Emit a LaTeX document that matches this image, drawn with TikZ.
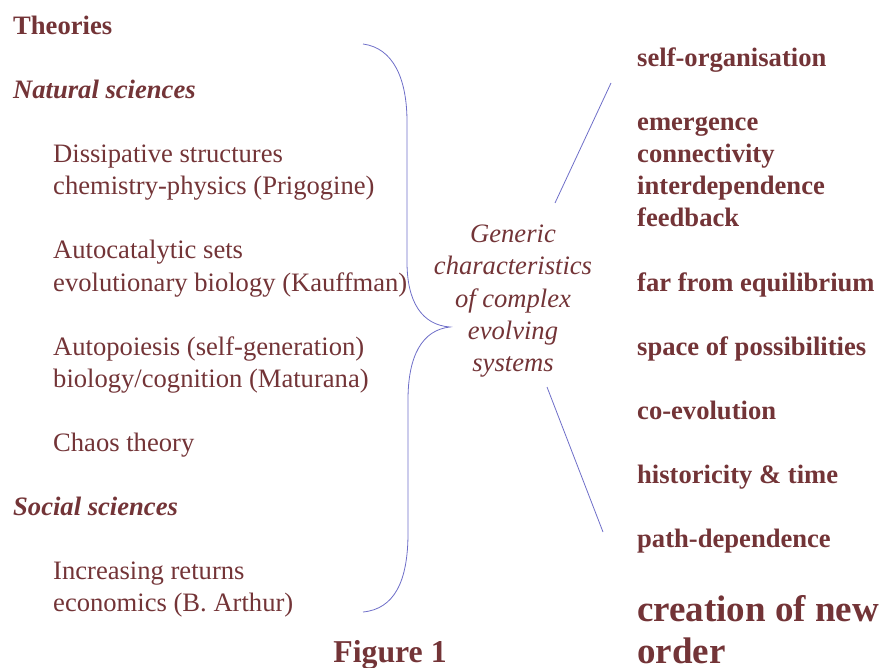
\documentclass[tikz,border=0pt]{standalone}
\usepackage{fontspec}
\setmainfont{Liberation Serif}
\definecolor{txt}{RGB}{115,52,55}
\definecolor{brc}{RGB}{110,110,200}
\begin{document}
\begin{tikzpicture}[x=1pt,y=-1pt,
  lbl/.style={anchor=base west,inner sep=0pt,text=txt,font=\fontsize{26.6}{32}\selectfont},
  hd/.style={lbl,font=\fontsize{26.6}{32}\selectfont\bfseries},
  hdi/.style={lbl,font=\fontsize{26.6}{32}\selectfont\bfseries\itshape},
  rt/.style={lbl,font=\fontsize{26.6}{32}\selectfont\bfseries},
  big/.style={lbl,font=\fontsize{37}{44}\selectfont\bfseries},
  mid/.style={anchor=base,inner sep=0pt,text=txt,font=\fontsize{26.6}{32}\selectfont\itshape},
  conn/.style={draw=brc,line width=0.8pt}]
\useasboundingbox (0,0) rectangle (883,668);
% left column
\node[hd] (theo) at (13,35) {Theories};
\node[hdi] (nat) at (13,99) {Natural sciences};
\node[lbl] (d1) at (53,163) {Dissipative structures};
\node[lbl] (d2) at (53,195) {chemistry-physics (Prigogine)};
\node[lbl] (a1) at (53,259) {Autocatalytic sets};
\node[lbl] (a2) at (53,291) {evolutionary biology (Kauffman)};
\node[lbl] (p1) at (53,355) {Autopoiesis (self-generation)};
\node[lbl] (p2) at (53,387) {biology/cognition (Maturana)};
\node[lbl] (ch) at (53,451) {Chaos theory};
\node[hdi] (soc) at (13,515) {Social sciences};
\node[lbl] (i1) at (53,579) {Increasing returns};
\node[lbl] (i2) at (53,611) {economics (B. Arthur)};
% centre
\node[mid] (g1) at (513,243) {Generic};
\node[mid] (g2) at (513,275) {characteristics};
\node[mid] (g3) at (513,307) {of complex};
\node[mid] (g4) at (513,339) {evolving};
\node[mid] (g5) at (513,371) {systems};
% right column
\node[rt] (r1) at (637,67) {self-organisation};
\node[rt] (r2) at (637,131) {emergence};
\node[rt] (r3) at (637,163) {connectivity};
\node[rt] (r4) at (637,195) {interdependence};
\node[rt] (r5) at (637,227) {feedback};
\node[rt] (r6) at (637,291) {far from equilibrium};
\node[rt] (r7) at (637,355) {space of possibilities};
\node[rt] (r8) at (637,419) {co-evolution};
\node[rt] (r9) at (637,483) {historicity \& time};
\node[rt] (r10) at (637,547) {path-dependence};
\node[big] (r11) at (637,621) {creation of new};
\node[big] (r12) at (637,663) {order};
% caption
\node[anchor=base,inner sep=0pt,text=txt,font=\fontsize{31.8}{38}\selectfont\bfseries] (fig) at (390,662) {Figure 1};
% brace
\draw[conn] (363,44) .. controls (393,48) and (407,78) .. (407,122) -- (407,262)
  .. controls (407,302) and (422,325) .. (450,327)
  .. controls (422,330) and (408,356) .. (408,400) -- (408,533)
  .. controls (408,582) and (394,609) .. (363,612);
% lines
\coordinate (u1) at (611,83);
\coordinate (u2) at (555,203);
\coordinate (l1) at (547,387);
\coordinate (l2) at (603,532);
\draw[conn] (u1) -- (u2);
\draw[conn] (l1) -- (l2);
\end{tikzpicture}
\end{document}
